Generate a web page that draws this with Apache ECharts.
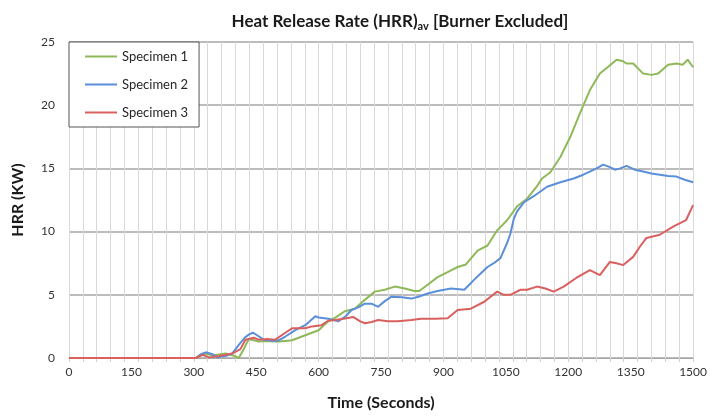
<!DOCTYPE html>
<html>
<head>
<meta charset="utf-8">
<script src="https://cdn.jsdelivr.net/npm/echarts@6/dist/echarts.min.js"></script>
<style>html,body{margin:0;padding:0;background:#fff}#c{width:710px;height:418px}</style>
</head>
<body>
<div id="c"></div>
<script>
// ---- data ----
var seriesNames = ['Specimen 1', 'Specimen 2', 'Specimen 3'];
var xTickLabels = [0, 150, 300, 450, 600, 750, 900, 1050, 1200, 1350, 1500];
var yTickLabels = [0, 5, 10, 15, 20, 25];

var s1Times = [0,305,313,329,345,376,395,408,420,432,444,456,476,496,504,520,536,560,584,600,623,640,663,687,711,735,759,783,807,830,842,862,886,910,934,954,982,1006,1029,1053,1077,1101,1125,1137,1157,1181,1205,1228,1252,1276,1296,1316,1330,1340,1356,1380,1400,1416,1440,1460,1475,1487,1500];
var s1Values = [0,0,0.2,0.35,0.2,0.35,0.2,0.0,0.7,1.5,1.4,1.3,1.35,1.3,1.3,1.35,1.4,1.7,2.0,2.2,2.9,3.2,3.7,3.9,4.6,5.25,5.4,5.65,5.5,5.3,5.3,5.8,6.4,6.8,7.2,7.4,8.5,8.9,10.1,10.9,12.0,12.6,13.6,14.2,14.7,15.9,17.5,19.35,21.2,22.5,23.05,23.6,23.5,23.3,23.3,22.5,22.4,22.5,23.2,23.3,23.2,23.6,23.0];

var s2Times = [0,305,317,329,345,357,376,392,412,422,432,442,452,468,496,504,520,544,568,592,600,623,647,665,679,695,711,727,743,759,775,800,823,840,862,886,918,950,962,974,990,1006,1021,1037,1053,1061,1069,1077,1093,1117,1149,1181,1213,1236,1252,1268,1284,1300,1312,1325,1340,1360,1380,1400,1420,1440,1460,1480,1500];
var s2Values = [0,0,0.3,0.45,0.3,0.05,0.15,0.35,1.2,1.6,1.85,2.0,1.8,1.45,1.35,1.4,1.7,2.2,2.6,3.3,3.2,3.1,2.9,3.3,3.8,4.0,4.3,4.3,4.05,4.5,4.85,4.8,4.7,4.85,5.1,5.3,5.5,5.4,5.8,6.2,6.7,7.2,7.5,7.9,9.1,9.85,11.0,11.6,12.3,12.8,13.55,13.9,14.2,14.5,14.75,15.0,15.3,15.1,14.9,15.0,15.2,14.9,14.75,14.6,14.5,14.4,14.35,14.1,13.9];

var s3Times = [0,305,321,337,361,392,412,424,444,456,476,496,520,536,568,584,607,623,640,660,683,700,711,727,743,767,790,823,846,880,910,934,966,998,1029,1045,1061,1085,1101,1125,1145,1165,1189,1220,1252,1276,1300,1316,1332,1356,1372,1388,1420,1452,1483,1500];
var s3Values = [0,0,0.25,0.05,0.15,0.35,0.7,1.45,1.6,1.45,1.5,1.45,2.0,2.35,2.35,2.5,2.6,2.95,3.0,3.1,3.25,2.9,2.75,2.85,3.0,2.9,2.9,3.0,3.1,3.1,3.15,3.8,3.9,4.45,5.25,5.0,5.0,5.4,5.4,5.65,5.5,5.25,5.65,6.35,6.95,6.55,7.6,7.5,7.35,8.0,8.8,9.5,9.75,10.4,10.9,12.1];

var colors = ['#8fb859', '#5b8fd9', '#d9605e'];

function pairs(t, v) { return t.map(function (x, i) { return [x, v[i]]; }); }

var FONT = 'Lato, "Open Sans", sans-serif';
var chart = echarts.init(document.getElementById('c'), null, { renderer: 'canvas' });
var times = [s1Times, s2Times, s3Times];
var vals = [s1Values, s2Values, s3Values];

chart.setOption({
  animation: false,
  textStyle: { fontFamily: FONT },
  title: {
    text: '{m|Heat Release Rate (HRR)}{s|av}{m| [Burner Excluded]}',
    left: 395, top: 7, textAlign: 'center',
    textStyle: {
      rich: {
        m: { fontFamily: FONT, fontWeight: 'bold', fontSize: 17, color: '#1a1a1a' },
        s: { fontFamily: FONT, fontWeight: 'bold', fontSize: 11, color: '#1a1a1a', padding: [9, 0, 0, 0] }
      }
    }
  },
  legend: {
    orient: 'vertical', left: 69, top: 42,
    data: seriesNames,
    icon: 'rect',
    backgroundColor: '#fff', borderColor: '#555', borderWidth: 1,
    padding: [6, 11, 6, 16], itemGap: 11, itemWidth: 32, itemHeight: 2,
    textStyle: { fontFamily: FONT, fontSize: 13, color: '#262626', lineHeight: 17 }
  },
  grid: { left: 69, right: 13, top: 42, bottom: 60, containLabel: false },
  xAxis: [{
    type: 'value', min: 0, max: 1500, interval: 150,
    name: 'Time (Seconds)', nameLocation: 'middle', nameGap: 37,
    nameTextStyle: { fontFamily: FONT, fontWeight: 'bold', fontSize: 16, color: '#1a1a1a' },
    axisLine: { show: true, lineStyle: { color: '#a6a6a6', width: 1 } },
    axisTick: { show: false },
    splitLine: { show: false },
    axisLabel: {
      fontFamily: FONT, fontSize: 12, color: '#333', margin: 8,
      formatter: function (v) { return xTickLabels.indexOf(v) >= 0 ? String(v) : ''; }
    }
  }, {
    type: 'value', min: 0, max: 1500, interval: 100 / 3, position: 'bottom',
    axisLine: { show: false }, axisLabel: { show: false },
    axisTick: { show: true, length: 4, lineStyle: { color: '#d0d0d0' } },
    splitLine: { show: true, lineStyle: { color: '#d9d9d9', width: 1 } }
  }],
  yAxis: {
    type: 'value', min: 0, max: 25, interval: 5,
    name: 'HRR (KW)', nameLocation: 'middle', nameGap: 43, nameRotate: 90,
    nameTextStyle: { fontFamily: FONT, fontWeight: 'bold', fontSize: 16, color: '#1a1a1a' },
    axisLine: { show: false }, axisTick: { show: false },
    axisLabel: {
      fontFamily: FONT, fontSize: 12, color: '#333', margin: 14,
      formatter: function (v) { return yTickLabels.indexOf(v) >= 0 ? String(v) : ''; }
    },
    splitLine: { show: true, lineStyle: { color: '#a6a6a6', width: 1.5 } }
  },
  series: seriesNames.map(function (n, i) {
    return {
      name: n, type: 'line', xAxisIndex: 0, data: pairs(times[i], vals[i]),
      symbol: 'none', showSymbol: false, z: i + 2,
      lineStyle: { color: colors[i], width: 2 }, itemStyle: { color: colors[i] }
    };
  })
});
</script>
</body>
</html>
